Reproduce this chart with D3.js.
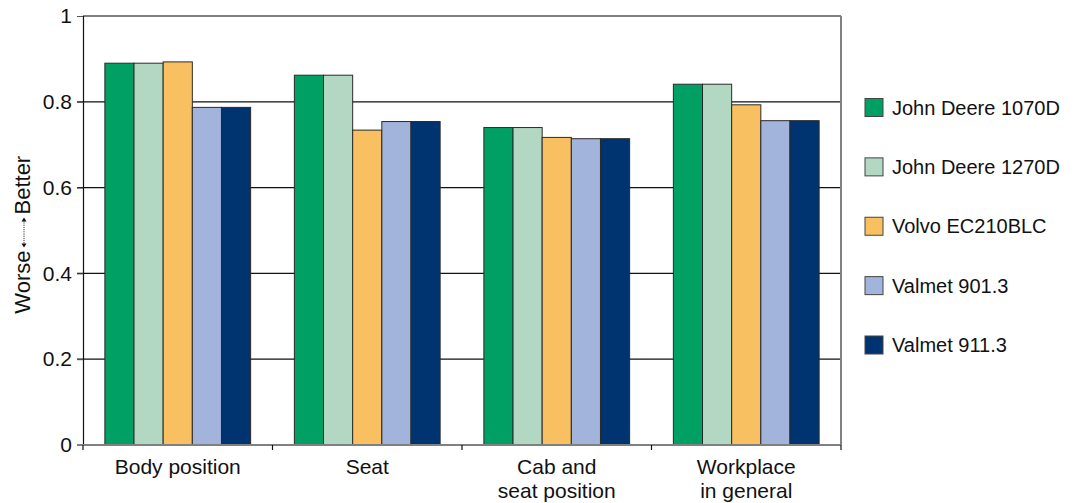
<!DOCTYPE html>
<html>
<head>
<meta charset="utf-8">
<script src="https://cdn.jsdelivr.net/npm/d3@7"></script>
<style>
  body { margin: 0; background: #fff; }
  text { font-family: 'Liberation Sans', Arial, sans-serif; fill: #111; }
</style>
</head>
<body>
<div id="chart"></div>
<script>
// categories and series
const categories = ['Body position', 'Seat', 'Cab and\nseat position', 'Workplace\nin general']
const machines = ['John Deere 1070D', 'John Deere 1270D', 'Volvo EC210BLC', 'Valmet 901.3', 'Valmet 911.3']
const colors = ['#00a064', '#b2d8c4', '#f8c060', '#a2b4dc', '#003470']

// values per machine, one entry per category
const jd1070 = [0.890, 0.862, 0.740, 0.841]
const jd1270 = [0.890, 0.862, 0.740, 0.841]
const volvo = [0.893, 0.734, 0.717, 0.793]
const valmet901 = [0.787, 0.754, 0.714, 0.756]
const valmet911 = [0.787, 0.754, 0.714, 0.756]

const yTicks = [0, 0.2, 0.4, 0.6, 0.8, 1]

const series = [jd1070, jd1270, volvo, valmet901, valmet911]

const dimensions = {
  width: 1074,
  height: 503,
  margin: { top: 16, right: 233, bottom: 58, left: 83 }
}
const innerW = dimensions.width - dimensions.margin.left - dimensions.margin.right
const innerH = dimensions.height - dimensions.margin.top - dimensions.margin.bottom

const svg = d3.select('#chart').append('svg')
  .attr('width', dimensions.width)
  .attr('height', dimensions.height)

const bounds = svg.append('g')
  .attr('transform', `translate(${dimensions.margin.left}, ${dimensions.margin.top})`)

const x0 = d3.scaleBand()
  .domain(categories)
  .range([0, innerW])

const x1 = d3.scaleBand()
  .domain(machines)
  .range([0, x0.bandwidth()])
  .paddingInner(0)
  .paddingOuter(0.75)

const yScale = d3.scaleLinear()
  .domain([0, 1])
  .range([innerH, 0])

// gridlines (0.2 .. 0.8)
bounds.selectAll('.grid')
  .data(yTicks.filter(d => d > 0 && d < 1))
  .join('line')
  .attr('x1', -6)
  .attr('x2', innerW)
  .attr('y1', d => yScale(d))
  .attr('y2', d => yScale(d))
  .attr('stroke', '#111')
  .attr('stroke-width', 1.2)

// bars
const rows = []
categories.forEach((c, i) => {
  machines.forEach((m, j) => {
    rows.push({ cat: c, machine: m, value: series[j][i], color: colors[j] })
  })
})

bounds.selectAll('rect.bar')
  .data(rows)
  .join('rect')
  .attr('class', 'bar')
  .attr('x', d => x0(d.cat) + x1(d.machine))
  .attr('y', d => yScale(d.value))
  .attr('width', x1.bandwidth())
  .attr('height', d => innerH - yScale(d.value))
  .attr('fill', d => d.color)
  .attr('stroke', '#2a2a2a')
  .attr('stroke-width', 1)

// frame: top and right in gray
bounds.append('line')
  .attr('x1', 0).attr('x2', innerW)
  .attr('y1', 0).attr('y2', 0)
  .attr('stroke', '#808080').attr('stroke-width', 2)
bounds.append('line')
  .attr('x1', innerW).attr('x2', innerW)
  .attr('y1', 0).attr('y2', innerH)
  .attr('stroke', '#808080').attr('stroke-width', 2)

// y axis
const yAxis = bounds.append('g')
  .call(d3.axisLeft(yScale).tickValues(yTicks).tickFormat(d => d).tickSize(6).tickPadding(5))
yAxis.select('.domain').attr('stroke', '#111').attr('stroke-width', 1.2)
yAxis.selectAll('.tick line').attr('stroke', '#555')
yAxis.selectAll('.tick text')
  .style('font-size', '21px')
  .attr('fill', '#111')

// x axis with ticks on category boundaries
const xAxisContainer = bounds.append('g')
  .attr('transform', `translate(0, ${innerH})`)
xAxisContainer.append('line')
  .attr('x1', -6).attr('x2', innerW)
  .attr('stroke', '#808080').attr('stroke-width', 2)
xAxisContainer.selectAll('.xtick')
  .data(categories.map(c => x0(c)).concat([innerW]))
  .join('line')
  .attr('x1', d => d).attr('x2', d => d)
  .attr('y1', 0).attr('y2', 5)
  .attr('stroke', '#111').attr('stroke-width', 1.2)

xAxisContainer.selectAll('text.xlabel')
  .data(categories)
  .join('text')
  .attr('class', 'xlabel')
  .attr('text-anchor', 'middle')
  .attr('transform', d => `translate(${x0(d) + x0.bandwidth() / 2}, 29)`)
  .style('font-size', '21px')
  .selectAll('tspan')
  .data(d => d.split('\n'))
  .join('tspan')
  .attr('x', 0)
  .attr('dy', (d, i) => i === 0 ? 0 : 24)
  .text(d => d)

// y axis title: Worse <....> Better
const yTitle = svg.append('g')
  .attr('transform', `translate(30, ${dimensions.margin.top + innerH / 2 + 2}) rotate(-90)`)
yTitle.append('text')
  .attr('text-anchor', 'end')
  .attr('x', -18)
  .style('font-size', '22px')
  .text('Worse')
yTitle.append('text')
  .attr('text-anchor', 'start')
  .attr('x', 18)
  .style('font-size', '22px')
  .text('Better')
yTitle.append('line')
  .attr('x1', -13).attr('x2', 13)
  .attr('y1', -6).attr('y2', -6)
  .attr('stroke', '#111')
  .attr('stroke-width', 1)
  .attr('stroke-dasharray', '1,1.2')
yTitle.append('path')
  .attr('d', 'M-15,-6 L-11,-8.5 L-11,-3.5 Z M15,-6 L11,-8.5 L11,-3.5 Z')
  .attr('fill', '#111')

// legend
const legend = svg.append('g')
  .attr('transform', 'translate(865, 0)')
const legendY = d3.scalePoint()
  .domain(machines)
  .range([107.5, 345])

const items = legend.selectAll('g')
  .data(machines)
  .join('g')
  .attr('transform', d => `translate(0, ${legendY(d)})`)
items.append('rect')
  .attr('x', 0)
  .attr('y', -9)
  .attr('width', 18)
  .attr('height', 18)
  .attr('fill', (d, i) => colors[i])
  .attr('stroke', '#444')
  .attr('stroke-width', 1)
items.append('text')
  .attr('x', 27)
  .attr('dy', '0.35em')
  .style('font-size', '20px')
  .text(d => d)
</script>
</body>
</html>
